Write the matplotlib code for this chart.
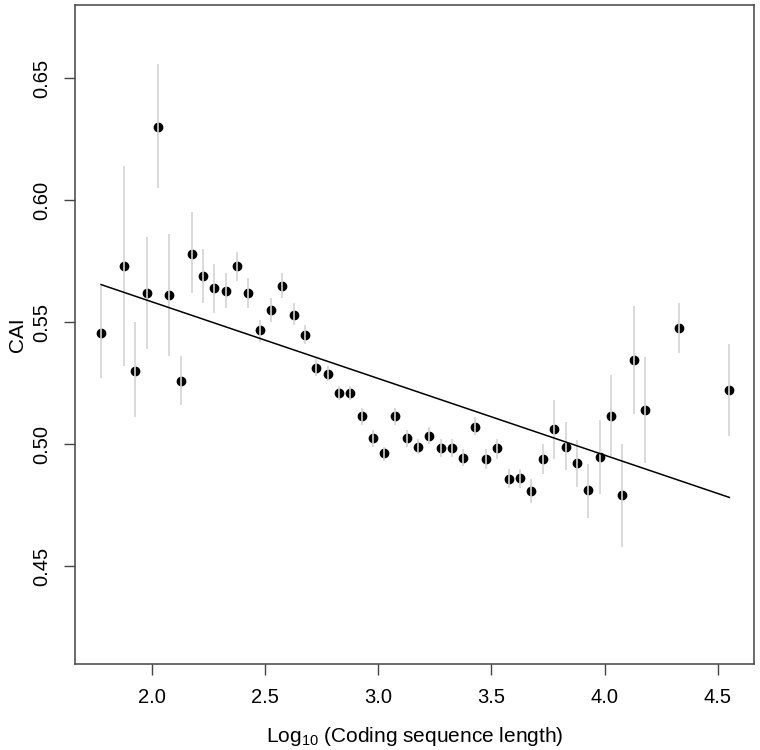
import matplotlib
matplotlib.use('Agg')
import matplotlib.pyplot as plt

plt.rcParams['font.family'] = ['Liberation Sans', 'DejaVu Sans']
plt.rcParams['mathtext.default'] = 'regular'

# binned log10 CDS length vs mean CAI
log_len = [1.775, 1.875, 1.925, 1.977, 2.026, 2.075, 2.127, 2.176, 2.226, 2.276,
           2.326, 2.376, 2.426, 2.476, 2.526, 2.576, 2.626, 2.676, 2.726, 2.776,
           2.826, 2.876, 2.926, 2.976, 3.026, 3.076, 3.126, 3.176, 3.226, 3.276,
           3.326, 3.376, 3.426, 3.476, 3.526, 3.576, 3.626, 3.676, 3.726, 3.778,
           3.828, 3.878, 3.928, 3.978, 4.028, 4.078, 4.128, 4.178, 4.327, 4.551]
cai = [0.5455, 0.573, 0.530, 0.562, 0.630, 0.561, 0.526, 0.578, 0.569, 0.564,
       0.563, 0.573, 0.562, 0.547, 0.555, 0.565, 0.553, 0.545, 0.5314, 0.529,
       0.521, 0.521, 0.5117, 0.5027, 0.4963, 0.5117, 0.5025, 0.499, 0.5035, 0.4986,
       0.4986, 0.4945, 0.5073, 0.494, 0.4983, 0.4858, 0.4861, 0.4807, 0.4938, 0.5061,
       0.499, 0.4922, 0.4813, 0.4948, 0.5115, 0.4792, 0.5347, 0.514, 0.5477, 0.5224]
cai_lo = [0.527, 0.532, 0.511, 0.539, 0.605, 0.536, 0.516, 0.562, 0.558, 0.554,
          0.556, 0.567, 0.556, 0.542, 0.550, 0.560, 0.549, 0.541, 0.528, 0.526,
          0.518, 0.518, 0.508, 0.499, 0.493, 0.508, 0.499, 0.496, 0.500, 0.495,
          0.495, 0.491, 0.504, 0.490, 0.494, 0.482, 0.482, 0.476, 0.488, 0.494,
          0.4895, 0.4827, 0.470, 0.4795, 0.4952, 0.458, 0.5126, 0.4922, 0.5375, 0.5033]
cai_hi = [0.565, 0.614, 0.550, 0.585, 0.656, 0.586, 0.536, 0.595, 0.580, 0.574,
          0.570, 0.579, 0.568, 0.551, 0.560, 0.570, 0.558, 0.549, 0.535, 0.532,
          0.524, 0.524, 0.515, 0.506, 0.499, 0.515, 0.506, 0.502, 0.507, 0.502,
          0.502, 0.498, 0.511, 0.498, 0.502, 0.490, 0.490, 0.486, 0.500, 0.518,
          0.509, 0.5017, 0.492, 0.5098, 0.5286, 0.500, 0.5565, 0.5358, 0.5579, 0.5411]

# linear fit CAI ~ log10(length)
fit_intercept = 0.6212
fit_slope = -0.03141

x_ticks = [2.0, 2.5, 3.0, 3.5, 4.0, 4.5]
y_ticks = [0.45, 0.50, 0.55, 0.60, 0.65]

AXIS_COL = '#444444'

fig = plt.figure(figsize=(7.6, 7.5), dpi=100)
ax = fig.add_axes([75 / 760, 1 - 664 / 750, 679 / 760, 659 / 750])

ax.plot(log_len, cai, 'o', color='black', markersize=6.0, zorder=2)
ax.vlines(log_len, cai_lo, cai_hi, color='#d3d3d3', linewidth=1.2, zorder=3)

x_ends = [min(log_len), max(log_len)]
ax.plot(x_ends, [fit_intercept + fit_slope * x for x in x_ends],
        color='black', linewidth=1.1, zorder=4)

ax.set_xlim(1.66, 4.66)
ax.set_ylim(0.41, 0.68)
ax.set_xticks(x_ticks)
ax.set_xticklabels(['%.1f' % t for t in x_ticks])
ax.set_yticks(y_ticks)
ax.set_yticklabels(['%.2f' % t for t in y_ticks], rotation=90, va='center')

for s in ax.spines.values():
    s.set_color(AXIS_COL)
    s.set_linewidth(1.1)
ax.tick_params(direction='out', length=8, width=1.0, color=AXIS_COL,
               labelsize=14.5, pad=9)

ax.set_xlabel('Log$_{10}$ (Coding sequence length)', fontsize=15)
ax.xaxis.set_label_coords(0.5, -0.092)
ax.set_ylabel('CAI', fontsize=15, va='center')
ax.yaxis.set_label_coords(-0.084, 0.5)

fig.savefig('out.png', dpi=100)
